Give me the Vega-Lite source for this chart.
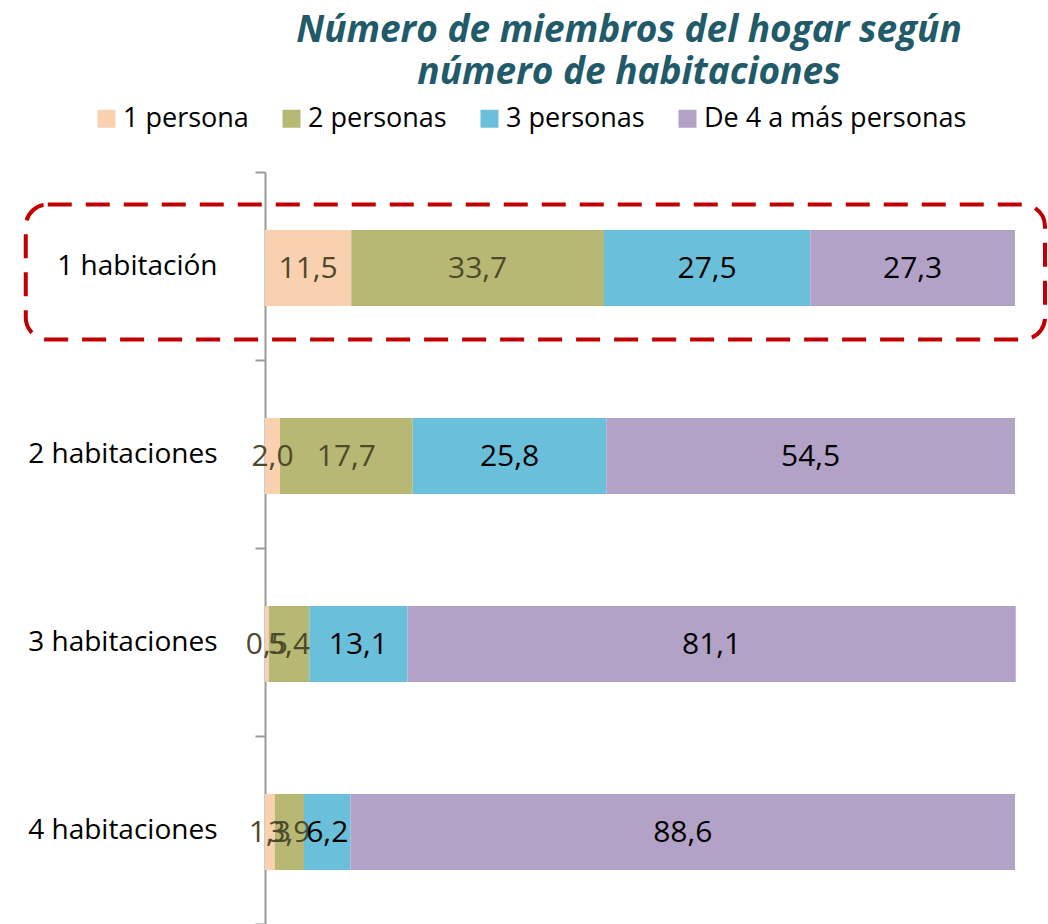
{
  "$schema": "https://vega.github.io/schema/vega-lite/v6.json",
  "autosize": "none",
  "width": 750,
  "height": 752,
  "padding": {"left": 265, "top": 172, "right": 33, "bottom": 0},
  "background": "white",
  "title": {
    "text": ["Número de miembros del hogar según", "número de habitaciones"],
    "anchor": "middle",
    "frame": "group",
    "font": "Open Sans",
    "fontSize": 37,
    "fontStyle": "italic",
    "fontWeight": "bold",
    "color": "#215A69",
    "lineHeight": 42,
    "dx": -11,
    "offset": 13
  },
  "config": {
    "view": {"stroke": null},
    "locale": {"number": {"decimal": ",", "thousands": ".", "grouping": [3], "currency": ["", " €"]}},
    "font": "Open Sans"
  },
  "layer": [
    {
      "data": {"values": [
        {"hab": "1 habitación", "grupo": "1 persona", "orden": 1, "valor": 11.5},
        {"hab": "1 habitación", "grupo": "2 personas", "orden": 2, "valor": 33.7},
        {"hab": "1 habitación", "grupo": "3 personas", "orden": 3, "valor": 27.5},
        {"hab": "1 habitación", "grupo": "De 4 a más personas", "orden": 4, "valor": 27.3},
        {"hab": "2 habitaciones", "grupo": "1 persona", "orden": 1, "valor": 2.0},
        {"hab": "2 habitaciones", "grupo": "2 personas", "orden": 2, "valor": 17.7},
        {"hab": "2 habitaciones", "grupo": "3 personas", "orden": 3, "valor": 25.8},
        {"hab": "2 habitaciones", "grupo": "De 4 a más personas", "orden": 4, "valor": 54.5},
        {"hab": "3 habitaciones", "grupo": "1 persona", "orden": 1, "valor": 0.5},
        {"hab": "3 habitaciones", "grupo": "2 personas", "orden": 2, "valor": 5.4},
        {"hab": "3 habitaciones", "grupo": "3 personas", "orden": 3, "valor": 13.1},
        {"hab": "3 habitaciones", "grupo": "De 4 a más personas", "orden": 4, "valor": 81.1},
        {"hab": "4 habitaciones", "grupo": "1 persona", "orden": 1, "valor": 1.3},
        {"hab": "4 habitaciones", "grupo": "2 personas", "orden": 2, "valor": 3.9},
        {"hab": "4 habitaciones", "grupo": "3 personas", "orden": 3, "valor": 6.2},
        {"hab": "4 habitaciones", "grupo": "De 4 a más personas", "orden": 4, "valor": 88.6}
      ]},
      "encoding": {
        "y": {
          "field": "hab", "type": "nominal",
          "scale": {"domain": ["1 habitación", "2 habitaciones", "3 habitaciones", "4 habitaciones"], "paddingInner": 0, "paddingOuter": 0},
          "axis": {
            "title": null,
            "domainColor": "#9a9a9a", "domainWidth": 2,
            "tickColor": "#9a9a9a", "tickWidth": 2, "tickSize": 10, "tickBand": "extent",
            "labelFontSize": 28, "labelColor": "#000000", "labelPadding": 38, "labelFont": "Open Sans", "labelLimit": 400
          }
        },
        "x": {
          "field": "valor", "type": "quantitative", "stack": "zero",
          "scale": {"domain": [0, 100], "nice": false},
          "axis": null
        },
        "order": {"field": "orden", "type": "quantitative"}
      },
      "layer": [
        {
          "mark": {"type": "bar", "size": 76, "yOffset": 2},
          "encoding": {
            "color": {
              "field": "grupo", "type": "nominal",
              "scale": {"domain": ["1 persona", "2 personas", "3 personas", "De 4 a más personas"], "range": ["#F9D0B0", "#B7B874", "#6AC0DA", "#B3A2C8"]},
              "legend": {
                "title": null, "orient": "none", "direction": "horizontal",
                "legendX": -172, "legendY": -67, "padding": 0,
                "symbolType": "square", "symbolSize": 324, "symbolStrokeWidth": 0, "symbolOpacity": 1,
                "labelFontSize": 27, "labelFont": "Open Sans", "labelColor": "#000000", "labelOffset": 3,
                "columnPadding": 29, "labelLimit": 400
              }
            }
          }
        },
        {
          "mark": {"type": "text", "fontSize": 30, "font": "Open Sans", "align": "center", "baseline": "middle", "dy": 3},
          "encoding": {
            "x": {"field": "valor", "type": "quantitative", "stack": "zero", "bandPosition": 0.5},
            "text": {"field": "valor", "type": "quantitative", "format": ".1f"},
            "color": {"condition": {"test": "datum.orden <= 2", "value": "#4D4A2C"}, "value": "#000000"}
          }
        }
      ]
    },
    {
      "data": {"values": [{"hab": "1 habitación", "inicio": -31.9, "fin": 104}]},
      "mark": {"type": "bar", "size": 135, "yOffset": 6, "cornerRadius": 22, "fill": null, "fillOpacity": 0, "stroke": "#C00000", "strokeWidth": 4, "strokeDash": [24, 14], "clip": false},
      "encoding": {
        "y": {"field": "hab", "type": "nominal"},
        "x": {"field": "inicio", "type": "quantitative"},
        "x2": {"field": "fin"}
      }
    }
  ]
}
